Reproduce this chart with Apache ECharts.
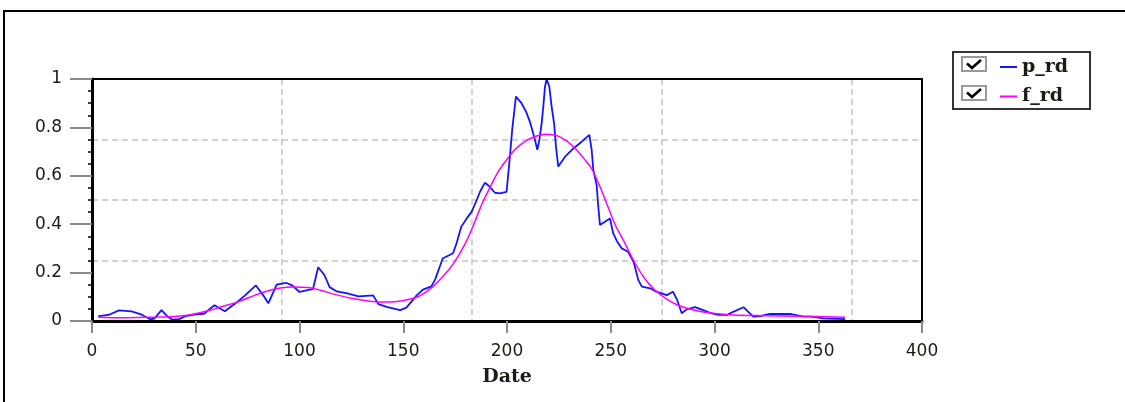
<!DOCTYPE html>
<html>
<head>
<meta charset="utf-8">
<script src="https://cdn.jsdelivr.net/npm/echarts@6/dist/echarts.min.js"></script>
<style>
  html, body { margin: 0; padding: 0; background: #ffffff; }
  #chart { width: 1125px; height: 402px; }
</style>
</head>
<body>
<div id="chart"></div>
<script>
// Observed daily ratio (p_rd), by day of year
const pRdDays = [
  3, 8, 13, 19, 24, 28, 30, 33.5, 36, 38.5, 42, 45, 50, 54, 59, 64, 69, 73.5, 79, 82.5,
  85, 89, 93.5, 96.5, 100, 105, 106.5, 109, 112, 114.5, 118, 123, 128.5, 132, 135.5, 138, 142, 148.5, 151.5, 156.5,
  159.5, 163.5, 165.3, 167, 169, 174, 175.7, 178, 180.6, 183, 185.4, 187, 189.4, 191, 194.2, 196.6, 199.8, 201.4, 202.5, 204.3,
  207, 209.2, 211, 212.4, 213.5, 214.6, 215.6, 216.7, 217.5, 218.3, 219.1, 220.4, 221.5, 222.7, 223.6, 224.7, 228, 232, 236, 239.7,
  240.8, 241.6, 243.2, 244, 244.8, 247.2, 249.6, 251.2, 253, 255.3, 258.3, 261, 263.3, 265, 269, 272, 277, 280, 282, 284.2,
  286.6, 290.6, 294.6, 297.8, 301.8, 306, 309, 314, 316.3, 318.7, 322, 326.7, 336.4, 342.8, 346.8, 352.4, 363
];
const pRdValues = [
  0.020, 0.025, 0.044, 0.040, 0.026, 0.007, 0.010, 0.045, 0.022, 0.006, 0.008, 0.020, 0.027, 0.030, 0.065, 0.040, 0.072, 0.104, 0.147, 0.106,
  0.073, 0.150, 0.158, 0.147, 0.120, 0.130, 0.132, 0.222, 0.190, 0.140, 0.122, 0.114, 0.102, 0.104, 0.106, 0.070, 0.058, 0.045, 0.055, 0.106,
  0.130, 0.143, 0.170, 0.210, 0.258, 0.280, 0.321, 0.390, 0.424, 0.452, 0.500, 0.534, 0.572, 0.560, 0.530, 0.527, 0.534, 0.679, 0.790, 0.927,
  0.900, 0.865, 0.824, 0.782, 0.748, 0.707, 0.748, 0.817, 0.886, 0.968, 1.000, 0.968, 0.886, 0.817, 0.720, 0.638, 0.679, 0.713, 0.741, 0.769,
  0.707, 0.624, 0.562, 0.472, 0.397, 0.410, 0.424, 0.362, 0.330, 0.300, 0.286, 0.245, 0.169, 0.142, 0.135, 0.121, 0.107, 0.121, 0.087, 0.032,
  0.048, 0.057, 0.045, 0.034, 0.025, 0.025, 0.038, 0.057, 0.038, 0.018, 0.020, 0.029, 0.029, 0.018, 0.018, 0.011, 0.008
];

// Fitted curve (f_rd)
const fRdDays = [
  3, 14, 30, 40, 48, 56, 62, 69, 76, 83, 90, 97, 104, 110, 117, 125, 133, 141, 147, 153,
  158, 164, 169, 174, 180, 184, 188, 192, 196, 200, 204, 208, 212, 216, 219, 222, 225, 229, 233, 237,
  241, 246, 252, 256, 261, 266, 271, 277, 283, 291, 299, 309, 325, 341, 363
];
const fRdValues = [
  0.016, 0.013, 0.016, 0.019, 0.027, 0.042, 0.058, 0.075, 0.098, 0.120, 0.135, 0.141, 0.138, 0.127, 0.110, 0.094, 0.083, 0.078, 0.081, 0.090,
  0.104, 0.140, 0.183, 0.235, 0.322, 0.400, 0.485, 0.555, 0.620, 0.668, 0.710, 0.738, 0.757, 0.769, 0.772, 0.770, 0.763, 0.742, 0.712, 0.672,
  0.626, 0.530, 0.400, 0.335, 0.250, 0.180, 0.130, 0.090, 0.063, 0.043, 0.032, 0.025, 0.022, 0.020, 0.015
];

const xTickStep = 50;     // labelled ticks on the Date axis
const yTickStep = 0.2;    // labelled ticks on the value axis
const xGridStep = 91.5;   // dashed guide lines (quarters of the year)
const yGridStep = 0.25;

const pRdPoints = pRdDays.map((d, i) => [d, pRdValues[i]]);
const fRdPoints = fRdDays.map((d, i) => [d, fRdValues[i]]);

const tickFont = { fontFamily: 'DejaVu Sans', fontSize: 17, color: '#1e1a14' };
const gridDash = { color: '#c4c4c4', width: 1.5, type: [6, 4] };

const chart = echarts.init(document.getElementById('chart'), null, { renderer: 'canvas' });

chart.setOption({
  animation: false,
  backgroundColor: '#ffffff',
  grid: {
    left: 92, top: 79, width: 830, height: 242,
    show: false
  },
  legend: {
    data: ['p_rd', 'f_rd'],
    orient: 'vertical',
    left: 1000, top: 57,
    padding: 0,
    itemWidth: 17, itemHeight: 2, itemGap: 9.5,
    icon: 'rect',
    selectedMode: false,
    textStyle: { fontFamily: 'DejaVu Serif', fontWeight: 'bold', fontSize: 19, color: '#1e1a14', lineHeight: 20 }
  },
  xAxis: [
    {
      type: 'value', min: 0, max: 400, interval: xTickStep,
      name: 'Date', nameLocation: 'middle', nameGap: 47,
      nameTextStyle: { fontFamily: 'DejaVu Serif', fontWeight: 'bold', fontSize: 19, color: '#1e1a14' },
      axisLine: { show: true, onZero: false, lineStyle: { color: '#000000', width: 3 } },
      axisTick: { show: true, length: 12, lineStyle: { color: '#8a8a8a', width: 2 } },
      axisLabel: Object.assign({ margin: 22 }, tickFont),
      splitLine: { show: false },
      z: 5
    },
    {
      // dashed quarter guides
      type: 'value', min: 0, max: 400, interval: xGridStep,
      axisLine: { show: false }, axisTick: { show: false }, axisLabel: { show: false },
      splitLine: { show: true, showMinLine: false, showMaxLine: false, lineStyle: gridDash }
    },
    {
      // top edge of the plot frame
      type: 'value', min: 0, max: 400, position: 'top',
      axisLine: { show: true, onZero: false, lineStyle: { color: '#000000', width: 2 } },
      axisTick: { show: false }, axisLabel: { show: false }, splitLine: { show: false },
      z: 4
    }
  ],
  yAxis: [
    {
      type: 'value', min: 0, max: 1, interval: yTickStep,
      axisLine: { show: true, onZero: false, lineStyle: { color: '#000000', width: 3 } },
      axisTick: { show: true, length: 22, lineStyle: { color: '#8a8a8a', width: 2 } },
      minorTick: { show: true, splitNumber: 4, length: 4, lineStyle: { color: '#000000', width: 1.5 } },
      axisLabel: Object.assign({ margin: 30 }, tickFont),
      splitLine: { show: false },
      z: 5
    },
    {
      type: 'value', min: 0, max: 1, interval: yGridStep,
      axisLine: { show: false }, axisTick: { show: false }, axisLabel: { show: false },
      splitLine: { show: true, showMinLine: false, showMaxLine: false, lineStyle: gridDash }
    },
    {
      // right edge of the plot frame
      type: 'value', min: 0, max: 1, position: 'right',
      axisLine: { show: true, onZero: false, lineStyle: { color: '#000000', width: 2 } },
      axisTick: { show: false }, axisLabel: { show: false }, splitLine: { show: false },
      z: 4
    }
  ],
  series: [
    {
      name: 'p_rd', type: 'line', data: pRdPoints,
      xAxisIndex: 0, yAxisIndex: 0,
      showSymbol: false, symbol: 'none',
      itemStyle: { color: '#1414ff' },
      lineStyle: { color: '#1414ff', width: 1.8 },
      z: 3
    },
    {
      name: 'f_rd', type: 'line', data: fRdPoints,
      xAxisIndex: 0, yAxisIndex: 0,
      showSymbol: false, symbol: 'none', smooth: 0.35,
      itemStyle: { color: '#ff00ff' },
      lineStyle: { color: '#ff00ff', width: 1.5 },
      z: 4
    }
  ],
  graphic: [
    // outer frame of the figure
    { type: 'rect', z: -10, silent: true,
      shape: { x: 4, y: 11, width: 1200, height: 500 },
      style: { fill: 'none', stroke: '#000000', lineWidth: 2 } },
    // legend box
    { type: 'rect', z: -5, silent: true,
      shape: { x: 953, y: 52, width: 137, height: 57 },
      style: { fill: '#ffffff', stroke: '#333333', lineWidth: 2 } },
    // check boxes beside the legend entries
    { type: 'rect', z: 10, silent: true,
      shape: { x: 962, y: 57, width: 24, height: 14 },
      style: { fill: '#ffffff', stroke: '#9a9a9a', lineWidth: 2 } },
    { type: 'polyline', z: 11, silent: true,
      shape: { points: [[967, 63.5], [972, 68], [981, 60]] },
      style: { fill: 'none', stroke: '#000000', lineWidth: 2.6 } },
    { type: 'rect', z: 10, silent: true,
      shape: { x: 962, y: 86, width: 24, height: 14 },
      style: { fill: '#ffffff', stroke: '#9a9a9a', lineWidth: 2 } },
    { type: 'polyline', z: 11, silent: true,
      shape: { points: [[967, 92.5], [972, 97], [981, 89]] },
      style: { fill: 'none', stroke: '#000000', lineWidth: 2.6 } }
  ]
});
</script>
</body>
</html>
